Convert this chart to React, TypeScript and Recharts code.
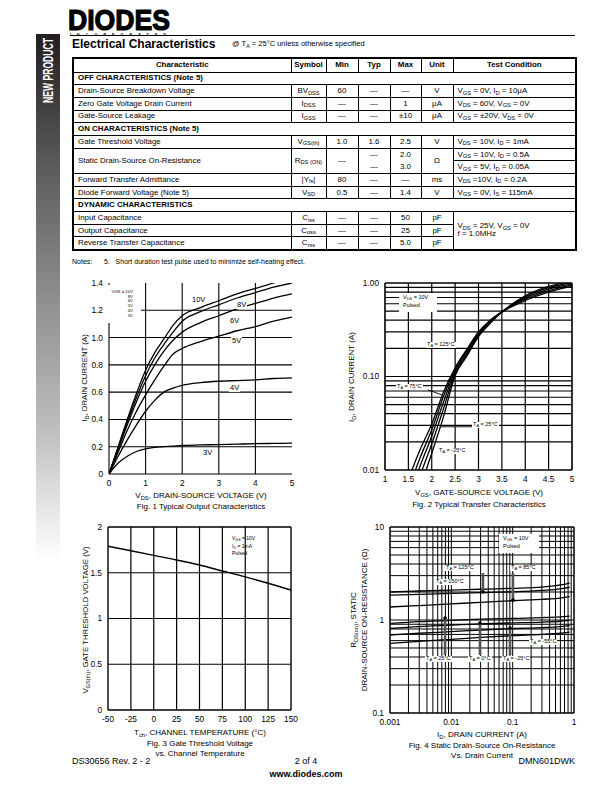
import React from 'react';
import { LineChart, Line, XAxis, YAxis, ReferenceLine, ReferenceDot } from 'recharts';

const FONT = "'Liberation Sans', Arial, Helvetica, sans-serif";

// Fig. 1 - typical output characteristics (ID vs VDS)
const fig1Vds = [0, 0.25, 0.5, 0.75, 1, 1.25, 1.5, 1.75, 2, 2.5, 3, 3.5, 4, 4.5, 5];
const fig1Id10V = [0, 0.2, 0.4, 0.59, 0.76, 0.89, 0.99, 1.09, 1.16, 1.22, 1.27, 1.32, 1.36, 1.4, 1.44];
const fig1Id8V = [0, 0.19, 0.38, 0.56, 0.72, 0.85, 0.95, 1.04, 1.12, 1.19, 1.24, 1.29, 1.33, 1.37, 1.4];
const fig1Id6V = [0, 0.18, 0.36, 0.53, 0.68, 0.8, 0.9, 0.98, 1.04, 1.11, 1.16, 1.21, 1.25, 1.29, 1.32];
const fig1Id5V = [0, 0.16, 0.32, 0.46, 0.58, 0.69, 0.79, 0.88, 0.92, 0.97, 1.01, 1.05, 1.08, 1.12, 1.15];
const fig1Id4V = [0, 0.13, 0.25, 0.36, 0.46, 0.54, 0.6, 0.63, 0.65, 0.67, 0.68, 0.685, 0.69, 0.7, 0.705];
const fig1Id3V = [0, 0.08, 0.13, 0.165, 0.185, 0.195, 0.2, 0.205, 0.21, 0.213, 0.216, 0.219, 0.222, 0.224, 0.226];

// Fig. 2 - typical transfer characteristics (ID vs VGS), log ID
const fig2Vgs = [1.5, 1.75, 2, 2.25, 2.5, 2.75, 3, 3.25, 3.5, 4, 4.5, 5];
const fig2Id125 = [0.008, 0.0165, 0.031, 0.068, 0.124, 0.195, 0.3, 0.4, 0.49, 0.65, 0.8, 0.92];
const fig2Id100 = [0.0062, 0.0135, 0.027, 0.061, 0.12, 0.188, 0.292, 0.395, 0.49, 0.67, 0.83, 0.95];
const fig2Id75 = [0.0048, 0.011, 0.023, 0.053, 0.114, 0.18, 0.284, 0.388, 0.49, 0.69, 0.86, 0.98];
const fig2Id25 = [0.0037, 0.0087, 0.019, 0.045, 0.108, 0.172, 0.276, 0.38, 0.49, 0.71, 0.89, 1.01];
const fig2IdM25 = [0.0027, 0.0064, 0.0151, 0.037, 0.102, 0.165, 0.267, 0.37, 0.49, 0.73, 0.92, 1.04];

// Fig. 3 - gate threshold voltage vs channel temperature
const fig3Tch = [-50, -25, 0, 25, 50, 75, 100, 125, 150];
const fig3Vth = [1.79, 1.74, 1.69, 1.64, 1.585, 1.52, 1.455, 1.385, 1.31];

// Fig. 4 - static drain-source on-resistance vs drain current
const fig4Id = [0.001, 0.003, 0.01, 0.03, 0.1, 0.3, 0.6, 0.85];
const fig4R150 = [2.0, 2.05, 2.1, 2.14, 2.19, 2.26, 2.38, 2.5];
const fig4R125 = [1.85, 1.89, 1.93, 1.97, 2.01, 2.08, 2.16, 2.25];
const fig4R85 = [1.38, 1.43, 1.49, 1.55, 1.61, 1.67, 1.72, 1.78];
const fig4R25 = [0.92, 0.96, 0.99, 1.02, 1.04, 1.06, 1.08, 1.1];
const fig4R0 = [0.81, 0.85, 0.88, 0.91, 0.93, 0.95, 0.97, 0.99];
const fig4RM25 = [0.69, 0.72, 0.75, 0.78, 0.81, 0.83, 0.85, 0.87];
const fig4RM55 = [0.56, 0.59, 0.62, 0.65, 0.68, 0.7, 0.72, 0.74];

type Pt = { x: number; y: number };
const pts = (xs: number[], ys: number[]): Pt[] => xs.map((x, i) => ({ x, y: ys[i] }));

// 1..9 x each decade, for log grids
const logGrid = (lo: number, hi: number) => {
  const out: number[] = [];
  for (let d = lo; d < hi; d *= 10) {
    for (let k = 1; k < 10; k++) out.push(+(d * k).toPrecision(3));
  }
  out.push(hi);
  return out;
};

const Sub = ({ children }: { children: React.ReactNode }) => (
  <span style={{ fontSize: '0.72em', position: 'relative', top: '0.28em' }}>{children}</span>
);

const YW = 34;
const TM = 8;
const RM = 12;
const XH = 20;

type PlotCfg = {
  left: number; top: number; w: number; h: number;
  xDomain: [number, number]; yDomain: [number, number];
  xLog?: boolean; yLog?: boolean;
  xTicks: number[]; yTicks: number[];
  xFmt: (v: number) => string; yFmt: (v: number) => string;
  xGrid: number[]; yGrid: number[];
  gridW: number; frameW: number; frame: boolean;
  series: Pt[][]; lineW: number;
  extras?: React.ReactNode[];
};

function plot(c: PlotCfg) {
  const tick = { fontSize: 8.3, fill: '#000', fontFamily: FONT };
  const frameLines = c.frame
    ? [
        <ReferenceLine key="fl" x={c.xDomain[0]} stroke="#000" strokeWidth={c.frameW} />,
        <ReferenceLine key="fr" x={c.xDomain[1]} stroke="#000" strokeWidth={c.frameW} />,
        <ReferenceLine key="fb" y={c.yDomain[0]} stroke="#000" strokeWidth={c.frameW} />,
        <ReferenceLine key="ft" y={c.yDomain[1]} stroke="#000" strokeWidth={c.frameW} />,
      ]
    : [
        <ReferenceLine key="fl" x={c.xDomain[0]} stroke="#000" strokeWidth={c.frameW} />,
        <ReferenceLine key="fb" y={c.yDomain[0]} stroke="#000" strokeWidth={c.frameW} />,
      ];
  return (
    <div style={{ position: 'absolute', left: c.left - YW, top: c.top - TM }}>
      <LineChart width={c.w + YW + RM} height={c.h + TM + XH} margin={{ top: TM, right: RM, left: 0, bottom: 0 }}>
        <XAxis
          type="number" dataKey="x" domain={c.xDomain} scale={c.xLog ? 'log' : 'linear'}
          ticks={c.xTicks} tickFormatter={c.xFmt} interval={0} allowDataOverflow
          height={XH} axisLine={false} tickLine={false} tickSize={0} tickMargin={6} tick={tick}
        />
        <YAxis
          type="number" dataKey="y" domain={c.yDomain} scale={c.yLog ? 'log' : 'linear'}
          ticks={c.yTicks} tickFormatter={c.yFmt} interval={0} allowDataOverflow
          width={YW} axisLine={false} tickLine={false} tickSize={0} tickMargin={6} tick={tick}
        />
        {c.xGrid.map((v) => (
          <ReferenceLine key={'gx' + v} x={v} stroke="#000" strokeWidth={c.gridW} />
        ))}
        {c.yGrid.map((v) => (
          <ReferenceLine key={'gy' + v} y={v} stroke="#000" strokeWidth={c.gridW} />
        ))}
        {frameLines}
        {c.series.map((d, i) => (
          <Line
            key={'s' + i} data={d} dataKey="y" type="monotone" stroke="#000"
            strokeWidth={c.lineW} dot={false} isAnimationActive={false}
          />
        ))}
        {c.extras}
      </LineChart>
    </div>
  );
}

const Txt = ({ x, y, size = 8, bold, bg, align, children, w, lh }: any) => (
  <div
    style={{
      position: 'absolute', left: x, top: y, fontSize: size, fontWeight: bold ? 'bold' : 'normal',
      lineHeight: lh ? `${lh}px` : 1.05, whiteSpace: 'pre', background: bg ? '#fff' : 'transparent',
      textAlign: align || 'left', width: w, padding: bg ? '0 1px' : 0,
    }}
  >
    {children}
  </div>
);

const CTxt = ({ cx, y, size = 8, children }: any) => (
  <div style={{ position: 'absolute', left: cx, top: y, transform: 'translateX(-50%)', fontSize: size, lineHeight: 1.1, whiteSpace: 'nowrap', textAlign: 'center' }}>
    {children}
  </div>
);

const VTxt = ({ cx, cy, size = 8, children }: any) => (
  <div style={{ position: 'absolute', left: cx, top: cy, transform: 'translate(-50%, -50%) rotate(-90deg)', fontSize: size, lineHeight: 1, whiteSpace: 'nowrap' }}>
    {children}
  </div>
);

const WBox = ({ x, y, w, h }: any) => (
  <div style={{ position: 'absolute', left: x, top: y, width: w, height: h, background: '#fff' }} />
);

const TA = ({ t }: { t: string }) => (
  <>T<Sub>A</Sub> = {t}°C</>
);

// table
const colW = [218, 35, 32, 32, 31, 32, 123];
const DASH = '—';

type Row = React.ReactNode[];
const offRows: Row[] = [
  ['Drain-Source Breakdown Voltage', <>BV<Sub>DSS</Sub></>, '60', DASH, DASH, 'V', <>V<Sub>GS</Sub> = 0V, I<Sub>D</Sub> = 10μA</>],
  ['Zero Gate Voltage Drain Current', <>I<Sub>DSS</Sub></>, DASH, DASH, '1', 'μA', <>V<Sub>DS</Sub> = 60V, V<Sub>GS</Sub> = 0V</>],
  ['Gate-Source Leakage', <>I<Sub>GSS</Sub></>, DASH, DASH, '±10', 'μA', <>V<Sub>GS</Sub> = ±20V, V<Sub>DS</Sub> = 0V</>],
];
const onRowsA: Row[] = [
  ['Gate Threshold Voltage', <>V<Sub>GS(th)</Sub></>, '1.0', '1.6', '2.5', 'V', <>V<Sub>DS</Sub> = 10V, I<Sub>D</Sub> = 1mA</>],
];
const onRowsB: Row[] = [
  ['Forward Transfer Admittance', <>|Y<Sub>fs</Sub>|</>, '80', DASH, DASH, 'ms', <>V<Sub>DS</Sub> =10V, I<Sub>D</Sub> = 0.2A</>],
  ['Diode Forward Voltage (Note 5)', <>V<Sub>SD</Sub></>, '0.5', DASH, '1.4', 'V', <>V<Sub>GS</Sub> = 0V, I<Sub>S</Sub> = 115mA</>],
];
const dynRows: Row[] = [
  ['Input Capacitance', <>C<Sub>iss</Sub></>, DASH, DASH, '50', 'pF'],
  ['Output Capacitance', <>C<Sub>oss</Sub></>, DASH, DASH, '25', 'pF'],
  ['Reverse Transfer Capacitance', <>C<Sub>rss</Sub></>, DASH, DASH, '5.0', 'pF'],
];

const RH = 12.7;
const cell = (i: number): React.CSSProperties => ({
  border: '0.8px solid #000',
  padding: i === 0 || i === 6 ? '0 0 0 4px' : 0,
  textAlign: i === 0 || i === 6 ? 'left' : 'center',
  verticalAlign: 'middle',
  lineHeight: 1,
  whiteSpace: 'nowrap',
  overflow: 'hidden',
});

function DataRow({ r }: { r: Row }) {
  return (
    <tr style={{ height: RH }}>
      {r.map((v, i) => (
        <td key={i} style={cell(i)}>{v}</td>
      ))}
    </tr>
  );
}

function Section({ label }: { label: string }) {
  return (
    <tr style={{ height: RH }}>
      <td colSpan={7} style={{ ...cell(0), fontWeight: 'bold' }}>{label}</td>
    </tr>
  );
}

function Table() {
  return (
    <table
      style={{
        position: 'absolute', left: 72, top: 57, width: 503, borderCollapse: 'collapse',
        tableLayout: 'fixed', fontSize: 7.9, border: '2px solid #000', fontFamily: FONT,
      }}
    >
      <colgroup>
        {colW.map((w, i) => <col key={i} style={{ width: w }} />)}
      </colgroup>
      <tbody>
        <tr style={{ height: 14 }}>
          {['Characteristic', 'Symbol', 'Min', 'Typ', 'Max', 'Unit', 'Test Condition'].map((h) => (
            <td key={h} style={{ ...cell(1), fontWeight: 'bold', textAlign: 'center', borderBottomWidth: 1.5, padding: 0 }}>{h}</td>
          ))}
        </tr>
        <Section label="OFF CHARACTERISTICS (Note 5)" />
        {offRows.map((r, i) => <DataRow key={'off' + i} r={r} />)}
        <Section label="ON CHARACTERISTICS (Note 5)" />
        {onRowsA.map((r, i) => <DataRow key={'on' + i} r={r} />)}
        <tr style={{ height: RH }}>
          <td rowSpan={2} style={cell(0)}>Static Drain-Source On-Resistance</td>
          <td rowSpan={2} style={cell(1)}>R<Sub>DS (ON)</Sub></td>
          <td rowSpan={2} style={cell(2)}>{DASH}</td>
          <td rowSpan={2} style={{ ...cell(3), lineHeight: 1.45 }}>{DASH}<br />{DASH}</td>
          <td rowSpan={2} style={{ ...cell(4), lineHeight: 1.45 }}>2.0<br />3.0</td>
          <td rowSpan={2} style={cell(5)}>Ω</td>
          <td style={cell(6)}>V<Sub>GS</Sub> = 10V, I<Sub>D</Sub> = 0.5A</td>
        </tr>
        <tr style={{ height: RH }}>
          <td style={cell(6)}>V<Sub>GS</Sub> = 5V, I<Sub>D</Sub> = 0.05A</td>
        </tr>
        {onRowsB.map((r, i) => <DataRow key={'onb' + i} r={r} />)}
        <Section label="DYNAMIC CHARACTERISTICS" />
        {dynRows.map((r, i) => (
          <tr key={'dyn' + i} style={{ height: RH }}>
            {r.map((v, j) => <td key={j} style={cell(j)}>{v}</td>)}
            {i === 0 && (
              <td rowSpan={3} style={{ ...cell(6), lineHeight: 1.05 }}>
                V<Sub>DS</Sub> = 25V, V<Sub>GS</Sub> = 0V<br />f = 1.0MHz
              </td>
            )}
          </tr>
        ))}
      </tbody>
    </table>
  );
}

export default function App() {
  const f1 = [fig1Id10V, fig1Id8V, fig1Id6V, fig1Id5V, fig1Id4V, fig1Id3V].map((ys) => pts(fig1Vds, ys));
  const f2 = [fig2Id125, fig2Id100, fig2Id75, fig2Id25, fig2IdM25].map((ys) => pts(fig2Vgs, ys));
  const f3 = [pts(fig3Tch, fig3Vth)];
  const f4 = [fig4R150, fig4R125, fig4R85, fig4R25, fig4R0, fig4RM25, fig4RM55].map((ys) => pts(fig4Id, ys));

  const f2Grid = logGrid(0.01, 1).filter((v) => v > 0.01 && v < 1);
  const f4GridX = logGrid(0.001, 1).filter((v) => v > 0.001 && v < 1);
  const f4GridY = logGrid(0.1, 10).filter((v) => v > 0.1 && v < 10);

  const arrow = (key: string, x: number, y1: number, y2: number) => [
    <ReferenceLine key={key} segment={[{ x, y: y1 }, { x, y: y2 }]} stroke="#555" strokeWidth={2.6} />,
    <ReferenceDot key={key + 'd'} x={x} y={y2} r={1.8} fill="#000" stroke="none" />,
  ];

  return (
    <div style={{ position: 'absolute', left: 0, top: 0, width: 612, height: 792, background: '#fff', fontFamily: FONT, color: '#000', overflow: 'hidden' }}>
      {/* side bar */}
      <div style={{ position: 'absolute', left: 36, top: 34, width: 24, height: 525, background: 'linear-gradient(to bottom, #231f20 0%, #5c5a5a 25%, #8e8e8e 50%, #bdbdbd 75%, #ffffff 100%)' }} />
      <svg style={{ position: 'absolute', left: 36, top: 34 }} width={24} height={76}>
        <text x={-69} y={11} transform="rotate(-90) scale(1,1.55)" fill="#fff" fontFamily={FONT} fontWeight="bold" fontSize={9} textLength={65} lengthAdjust="spacingAndGlyphs">
          NEW PRODUCT
        </text>
      </svg>

      {/* logo */}
      <svg style={{ position: 'absolute', left: 66, top: 4 }} width={120} height={34}>
        <text x={2} y={26} fontFamily={FONT} fontWeight="900" fontSize={30} textLength={102} lengthAdjust="spacingAndGlyphs" fill="#000" stroke="#000" strokeWidth={1.2}>
          DIODES
        </text>
        <text x={4} y={31.5} fontFamily={FONT} fontWeight="bold" fontSize={3.6} textLength={96} lengthAdjust="spacing" fill="#000">
          INCORPORATED
        </text>
      </svg>
      <div style={{ position: 'absolute', left: 70, top: 35, width: 505, height: 0, borderTop: '1px solid #000' }} />

      <Txt x={72} y={38} size={12} bold>Electrical Characteristics</Txt>
      <Txt x={232} y={40} size={7.5}>@ T<Sub>A</Sub> = 25°C unless otherwise specified</Txt>

      <Table />
      <Txt x={72} y={258} size={7}>{'Notes:      5.   Short duration test pulse used to minimize self-heating effect.'}</Txt>

      {/* Fig. 1 */}
      {plot({
        left: 109, top: 283, w: 183, h: 191,
        xDomain: [0, 5], yDomain: [0, 1.4],
        xTicks: [0, 1, 2, 3, 4, 5], yTicks: [0, 0.2, 0.4, 0.6, 0.8, 1.0, 1.2, 1.4],
        xFmt: (v) => String(v), yFmt: (v) => (v === 0 ? '0' : v.toFixed(1)),
        xGrid: [1, 2, 3, 4], yGrid: [0.2, 0.4, 0.6, 0.8, 1.0, 1.2],
        gridW: 1.1, frameW: 1.1, frame: false, series: f1, lineW: 1.3,
      })}
      <WBox x={108} y={285} w={33} h={38} />
      <Txt x={108} y={290} w={25} align="right" size={4.3} lh={4.7}>
        {'VGS = 10V\n8V\n6V\n5V\n4V\n3V'}
      </Txt>
      <Txt x={191} y={296} size={7.5} bg>10V</Txt>
      <Txt x={236} y={301} size={7.5} bg>8V</Txt>
      <Txt x={229} y={317} size={7.5} bg>6V</Txt>
      <Txt x={231} y={337} size={7.5} bg>5V</Txt>
      <Txt x={229} y={384} size={7.5} bg>4V</Txt>
      <Txt x={202} y={449} size={7.5} bg>3V</Txt>
      <VTxt cx={85} cy={378} size={7.8}>I<Sub>D</Sub>, DRAIN CURRENT (A)</VTxt>
      <CTxt cx={201} y={492} size={8}>V<Sub>DS</Sub>, DRAIN-SOURCE VOLTAGE (V)</CTxt>
      <CTxt cx={201} y={503} size={8}>Fig. 1  Typical Output Characteristics</CTxt>

      {/* Fig. 2 */}
      {plot({
        left: 385, top: 283, w: 187, h: 187,
        xDomain: [1, 5], yDomain: [0.01, 1], yLog: true,
        xTicks: [1, 1.5, 2, 2.5, 3, 3.5, 4, 4.5, 5], yTicks: [0.01, 0.1, 1],
        xFmt: (v) => String(v), yFmt: (v) => v.toFixed(2),
        xGrid: [1.5, 2, 2.5, 3, 3.5, 4, 4.5], yGrid: f2Grid,
        gridW: 1.2, frameW: 1.6, frame: true, series: f2, lineW: 1.3,
        extras: [
          <ReferenceLine key="l75" segment={[{ x: 1.92, y: 0.072 }, { x: 2.24, y: 0.063 }]} stroke="#000" strokeWidth={0.9} />,
          <ReferenceLine key="l25" segment={[{ x: 2.18, y: 0.029 }, { x: 2.87, y: 0.029 }]} stroke="#000" strokeWidth={0.9} />,
        ],
      })}
      <WBox x={399} y={293} w={38} h={19} />
      <Txt x={403} y={294.5} size={5.5}>V<Sub>DS</Sub> = 10V</Txt>
      <Txt x={403} y={302.5} size={5.5}>Pulsed</Txt>
      <Txt x={426} y={342} size={5.5} bg><TA t="125" /></Txt>
      <Txt x={396} y={384} size={5.5} bg><TA t="75" /></Txt>
      <Txt x={472} y={422} size={5.5} bg><TA t="25" /></Txt>
      <Txt x={438} y={448} size={5.5} bg><TA t="-25" /></Txt>
      <VTxt cx={352} cy={377} size={8}>I<Sub>D</Sub>, DRAIN CURRENT (A)</VTxt>
      <CTxt cx={479} y={489} size={8}>V<Sub>GS</Sub>, GATE-SOURCE VOLTAGE (V)</CTxt>
      <CTxt cx={479} y={501} size={8}>Fig. 2  Typical Transfer Characteristics</CTxt>

      {/* Fig. 3 */}
      {plot({
        left: 108, top: 527, w: 183, h: 183,
        xDomain: [-50, 150], yDomain: [0, 2],
        xTicks: [-50, -25, 0, 25, 50, 75, 100, 125, 150], yTicks: [0, 0.5, 1, 1.5, 2],
        xFmt: (v) => String(v), yFmt: (v) => String(v),
        xGrid: [-25, 0, 25, 50, 75, 100, 125], yGrid: [0.5, 1, 1.5],
        gridW: 1.2, frameW: 1.4, frame: true, series: f3, lineW: 1.5,
      })}
      <Txt x={232} y={536} size={5}>V<Sub>GS</Sub> = 10V</Txt>
      <Txt x={232} y={543.5} size={5}>I<Sub>D</Sub> = 1mA</Txt>
      <Txt x={232} y={551} size={5}>Pulsed</Txt>
      <VTxt cx={86} cy={620} size={7.8}>V<Sub>GS(th)</Sub>, GATE THRESHOLD VOLTAGE (V)</VTxt>
      <CTxt cx={200} y={729} size={8}>T<Sub>ch</Sub>, CHANNEL TEMPERATURE (°C)</CTxt>
      <CTxt cx={200} y={740} size={8}>Fig. 3  Gate Threshold Voltage</CTxt>
      <CTxt cx={200} y={750} size={8}>vs. Channel Temperature</CTxt>

      {/* Fig. 4 */}
      {plot({
        left: 390, top: 527, w: 184, h: 186,
        xDomain: [0.001, 1], yDomain: [0.1, 10], xLog: true, yLog: true,
        xTicks: [0.001, 0.01, 0.1, 1], yTicks: [0.1, 1, 10],
        xFmt: (v) => String(v), yFmt: (v) => String(v),
        xGrid: f4GridX, yGrid: f4GridY,
        gridW: 1, frameW: 1.5, frame: true, series: f4, lineW: 1.3,
        extras: [
          ...arrow('a125', 0.0328, 3.2, 2.0),
          ...arrow('a85', 0.101, 3.2, 1.64),
          ...arrow('a25', 0.0079, 0.42, 1.05),
          ...arrow('a0', 0.0293, 0.42, 0.93),
          ...arrow('am25', 0.0906, 0.42, 0.82),
        ],
      })}
      <WBox x={499} y={534} w={40} h={19} />
      <Txt x={503} y={535.5} size={5.5}>V<Sub>GS</Sub> = 10V</Txt>
      <Txt x={503} y={543.5} size={5.5}>Pulsed</Txt>
      <Txt x={445} y={565} size={5.5} bg><TA t="125" /></Txt>
      <Txt x={510} y={565} size={5.5} bg><TA t="85" /></Txt>
      <Txt x={435} y={579} size={5.5} bg><TA t="150" /></Txt>
      <Txt x={425} y={656} size={5.5} bg><TA t="25" /></Txt>
      <Txt x={468} y={656} size={5.5} bg><TA t="0" /></Txt>
      <Txt x={502} y={656} size={5.5} bg><TA t="-25" /></Txt>
      <Txt x={529} y={639} size={5.5} bg><TA t="-55" /></Txt>
      <VTxt cx={354} cy={620} size={8}>R<Sub>DS(on)</Sub>, STATIC</VTxt>
      <VTxt cx={365} cy={620} size={8}>DRAIN-SOURCE ON-RESISTANCE (Ω)</VTxt>
      <CTxt cx={482} y={731} size={8}>I<Sub>D</Sub>, DRAIN CURRENT (A)</CTxt>
      <CTxt cx={482} y={742} size={8}>Fig. 4 Static Drain-Source On-Resistance</CTxt>
      <CTxt cx={482} y={752} size={8}>Vs. Drain Current</CTxt>

      {/* footer */}
      <Txt x={72} y={757} size={9}>DS30656 Rev. 2 - 2</Txt>
      <CTxt cx={306} y={757} size={9}>2 of 4</CTxt>
      <Txt x={475} y={757} w={100} align="right" size={9}>DMN601DWK</Txt>
      <CTxt cx={306} y={770} size={9}><b>www.diodes.com</b></CTxt>
    </div>
  );
}
